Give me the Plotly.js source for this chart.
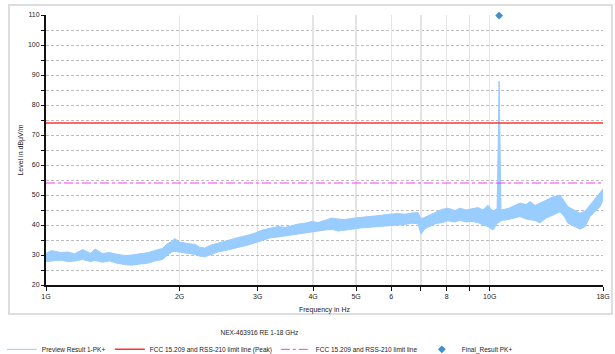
<!DOCTYPE html>
<html>
<head>
<meta charset="utf-8">
<script src="https://cdn.plot.ly/plotly-3.0.1.min.js"></script>
<style>html,body{margin:0;padding:0;background:#fff;}#chart{width:615px;height:354px;}</style>
</head>
<body>
<div id="chart"></div>
<script>
// Frequencies in GHz along the measured sweep (envelope of the noisy trace)
const freqGHz = [1.00,1.03,1.08,1.12,1.16,1.21,1.26,1.29,1.34,1.39,1.45,1.51,1.56,1.63,1.70,1.76,1.83,1.88,1.92,1.95,
  2.00,2.09,2.17,2.22,2.28,2.34,2.44,2.53,2.63,2.74,2.85,2.96,3.07,3.20,3.33,3.46,3.55,3.70,3.83,3.98,
  4.10,4.25,4.41,4.55,4.72,4.89,5.10,5.32,5.51,5.75,5.96,6.21,6.44,6.68,6.89,7.00,7.15,7.34,7.57,7.81,
  8.05,8.35,8.57,8.84,9.12,9.41,9.66,9.91,10.17,10.39,10.46,10.50,10.54,10.60,11.00,11.34,11.70,12.07,12.33,12.65,
  12.98,13.39,13.89,14.40,14.70,15.01,15.49,15.98,16.40,16.83,17.27,17.72,18.00];
// Upper edge of Preview Result 1-PK+ (dBµV/m)
const previewHigh = [30.5,31.5,30.8,31.0,30.4,31.8,30.6,32.0,30.5,30.8,30.2,29.8,30.0,30.3,30.8,31.5,32.2,33.8,34.5,35.5,
  34.3,33.8,33.5,32.6,32.3,33.2,34.0,34.6,35.4,36.0,36.6,37.3,38.3,38.8,39.5,39.2,39.7,40.3,40.6,41.2,
  40.8,41.5,42.3,42.0,41.8,42.2,42.6,42.8,43.0,43.4,43.6,43.8,43.6,44.0,44.2,42.0,42.6,43.4,44.2,45.2,
  45.6,44.8,45.6,45.0,45.4,45.8,45.0,46.6,44.5,45.5,71.0,88.0,71.0,45.0,45.5,46.4,47.3,46.8,47.8,46.5,
  47.3,48.0,49.4,50.0,48.0,46.1,45.0,43.9,44.6,46.7,48.5,50.6,52.0];
// Lower edge of Preview Result 1-PK+ (dBµV/m)
const previewLow = [27.8,28.0,28.3,27.8,28.0,28.5,27.8,28.2,27.6,28.0,27.2,26.8,26.6,27.0,27.3,28.0,28.5,30.0,31.0,31.2,
  31.0,30.6,30.2,29.6,29.4,30.0,31.0,31.5,32.0,32.7,33.3,34.0,34.8,35.7,36.0,36.4,36.7,37.0,37.5,37.8,
  38.0,38.3,38.6,38.0,38.2,38.6,39.0,39.2,39.4,39.6,39.8,40.0,40.2,40.6,40.4,37.0,38.8,39.6,40.5,40.8,
  41.4,41.0,41.6,41.0,41.2,40.8,40.0,39.5,38.3,40.5,41.0,41.0,41.0,41.5,41.8,42.3,42.8,42.0,41.7,41.5,
  40.7,42.3,43.3,44.4,43.0,40.6,39.6,38.6,39.5,42.8,44.5,46.1,48.3];
// Limit lines
const limitFreqGHz = [1, 18];
const limitPeak = [74, 74];
const limitAvg = [54, 54];
// Final result
const finalFreqGHz = [10.5];
const finalLevel = [109.8];
// Axis ticks
const xTickVals = [1,2,3,4,5,6,7,8,9,10,18];
const xTickText = ['1G','2G','3G','4G','5G','6','','8','','10G','18G'];
const yTickVals = [20,30,40,50,60,70,80,90,100,110];

const FONT = 'Liberation Sans, Arial, sans-serif';
const FS = 6.5;
const bandColor = '#99ccff';

const traces = [
  {x: freqGHz, y: previewLow, type: 'scatter', mode: 'lines', name: 'Preview Result 1-PK+',
   line: {color: bandColor, width: 1}, legendwidth: 63, hoverinfo: 'skip'},
  {x: freqGHz, y: previewHigh, type: 'scatter', mode: 'lines', name: 'Preview Result 1-PK+ (max)',
   line: {color: bandColor, width: 1}, fill: 'tonexty', fillcolor: bandColor, showlegend: false},
  {x: limitFreqGHz, y: limitPeak, type: 'scatter', mode: 'lines', name: 'FCC 15.209 and RSS-210 limit line (Peak)',
   line: {color: '#ff3333', width: 1.5}, legendwidth: 121},
  {x: limitFreqGHz, y: limitAvg, type: 'scatter', mode: 'lines', name: 'FCC 15.209 and RSS-210 limit line',
   line: {color: '#ff33ff', width: 1, dash: 'dashdot'}, legendwidth: 101},
  {x: finalFreqGHz, y: finalLevel, type: 'scatter', mode: 'markers', name: 'Final_Result PK+',
   marker: {symbol: 'diamond', size: 6, color: '#3d8fd6'}, cliponaxis: false, legendwidth: 50}
];

const layout = {
  width: 615, height: 354,
  margin: {l: 46, r: 12, t: 15, b: 69},
  paper_bgcolor: '#ffffff', plot_bgcolor: '#ffffff',
  font: {family: FONT, size: FS, color: '#222'},
  showlegend: true,
  xaxis: {
    type: 'log', range: [0, Math.log10(18)],
    tickvals: xTickVals, ticktext: xTickText, tickangle: 0,
    tickfont: {family: FONT, size: FS + 0.5, color: '#222'},
    showgrid: true, gridcolor: '#e4e4e4', gridwidth: 1.5,
    showline: true, linecolor: '#111', linewidth: 2,
    ticks: 'outside', ticklen: 4, tickcolor: '#111', tickwidth: 1,
    zeroline: false,
    title: {text: 'Frequency in Hz', font: {family: FONT, size: FS + 0.5, color: '#222'}, standoff: 8}
  },
  yaxis: {
    range: [20, 110], tickvals: yTickVals,
    tickfont: {family: FONT, size: FS + 0.5, color: '#222'},
    showgrid: true, gridcolor: '#bdbdbd', griddash: '3px,2px', gridwidth: 1,
    minor: {dtick: 5, tick0: 0, showgrid: true, gridcolor: '#bdbdbd', griddash: '3px,2px', ticks: 'outside', ticklen: 3, tickcolor: '#111'},
    showline: true, linecolor: '#111', linewidth: 2,
    ticks: 'outside', ticklen: 3, tickcolor: '#111', tickwidth: 1,
    zeroline: false,
    title: {text: 'Level in dBμV/m', font: {family: FONT, size: FS + 0.5, color: '#222'}, standoff: 3}
  },
  legend: {
    orientation: 'h', xref: 'container', yref: 'container',
    x: 0.003, xanchor: 'left', y: 0.078, yanchor: 'top',
    bgcolor: 'rgba(0,0,0,0)', font: {family: FONT, size: FS, color: '#222'},
    title: {text: 'NEX-463916 RE 1-18 GHz', side: 'top center', font: {family: FONT, size: FS, color: '#222'}},
    traceorder: 'normal', itemwidth: 30, tracegroupgap: 0
  },
  shapes: [
    {type: 'rect', xref: 'paper', yref: 'paper', x0: -0.0664, x1: 1.016, y0: -0.107, y1: 1.037,
     line: {color: '#dddddd', width: 2}, fillcolor: 'rgba(0,0,0,0)', layer: 'below'}
  ]
};

Plotly.newPlot('chart', traces, layout, {displayModeBar: false, staticPlot: true});
</script>
</body>
</html>
